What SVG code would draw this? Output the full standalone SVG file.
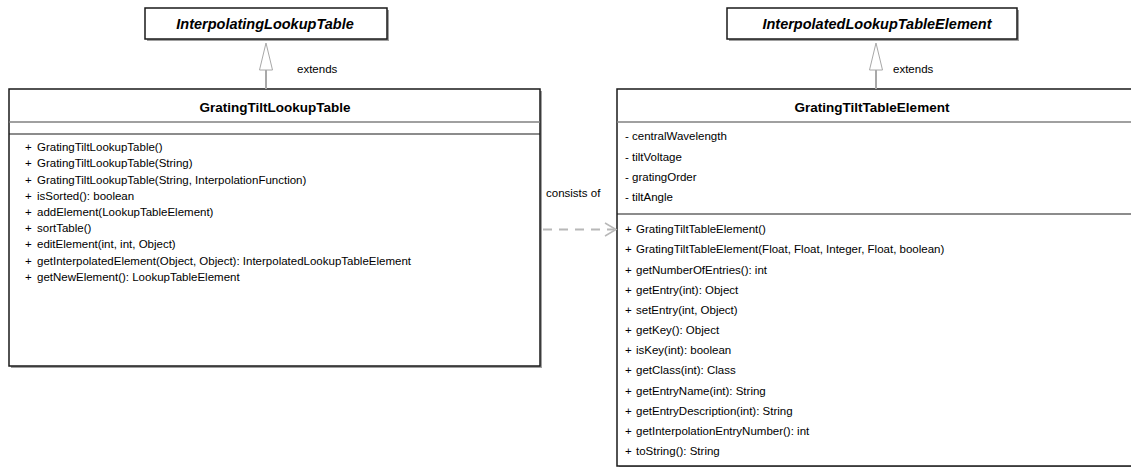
<svg xmlns="http://www.w3.org/2000/svg" width="1131" height="467" viewBox="0 0 1131 467">
  <defs>
    <style>
      .box { fill: #ffffff; stroke: #1a1a1a; stroke-width: 1.5; }
      .shadow { fill: #a0a0a0; }
      .sep { stroke: #808080; stroke-width: 1.5; }
      .sepdark { stroke: #1a1a1a; stroke-width: 1.2; }
      .title { font-family: "Liberation Sans", Arial, sans-serif; font-size: 13.5px; font-weight: bold; fill: #000; text-anchor: middle; }
      .abstract { font-style: italic; font-size: 14.5px; }
      .member { font-family: "Liberation Sans", Arial, sans-serif; font-size: 11.5px; fill: #000; }
      .label { font-family: "Liberation Sans", Arial, sans-serif; font-size: 11.5px; fill: #000; }
      .inherit { stroke: #a8a8a8; stroke-width: 2; fill: none; }
      .head { stroke: #a8a8a8; stroke-width: 1; fill: #ffffff; }
      .dep { stroke: #b8b8b8; stroke-width: 2; fill: none; stroke-dasharray: 9 7; }
      .open { stroke: #b8b8b8; stroke-width: 1.5; fill: none; }
    </style>
  </defs>

  <rect width="1131" height="467" fill="#ffffff"/>

  <!-- abstract parent classes -->
  <g id="InterpolatingLookupTable">
    <rect class="shadow" x="147" y="10" width="242" height="31"/>
    <rect class="box" x="145" y="8" width="242" height="31"/>
    <text class="title abstract" x="265" y="29">InterpolatingLookupTable</text>
  </g>

  <g id="InterpolatedLookupTableElement">
    <rect class="shadow" x="729" y="10" width="290" height="31"/>
    <rect class="box" x="727" y="8" width="290" height="31"/>
    <text class="title abstract" x="877" y="29">InterpolatedLookupTableElement</text>
  </g>

  <!-- lookup table class -->
  <g id="GratingTiltLookupTable">
    <rect class="shadow" x="11" y="91" width="531" height="277"/>
    <rect class="box" x="9" y="89" width="531" height="277"/>
    <text class="title" x="275" y="112">GratingTiltLookupTable</text>
    <line class="sep" x1="9" y1="122" x2="540" y2="122"/>
    <line class="sepdark" x1="9" y1="134" x2="540" y2="134"/>
    <g class="member">
      <text x="25" y="151">+<tspan x="37">GratingTiltLookupTable()</tspan></text>
      <text x="25" y="167">+<tspan x="37">GratingTiltLookupTable(String)</tspan></text>
      <text x="25" y="183.5">+<tspan x="37">GratingTiltLookupTable(String, InterpolationFunction)</tspan></text>
      <text x="25" y="199.5">+<tspan x="37">isSorted(): boolean</tspan></text>
      <text x="25" y="216">+<tspan x="37">addElement(LookupTableElement)</tspan></text>
      <text x="25" y="232">+<tspan x="37">sortTable()</tspan></text>
      <text x="25" y="248">+<tspan x="37">editElement(int, int, Object)</tspan></text>
      <text x="25" y="264.5">+<tspan x="37">getInterpolatedElement(Object, Object): InterpolatedLookupTableElement</tspan></text>
      <text x="25" y="281">+<tspan x="37">getNewElement(): LookupTableElement</tspan></text>
    </g>
  </g>

  <!-- table element class -->
  <g id="GratingTiltTableElement">
    <rect class="shadow" x="619" y="91" width="518" height="377"/>
    <rect class="box" x="617" y="89" width="518" height="377"/>
    <text class="title" x="872" y="112">GratingTiltTableElement</text>
    <line class="sep" x1="617" y1="122" x2="1131" y2="122"/>
    <line class="sepdark" x1="617" y1="214" x2="1131" y2="214"/>
    <g class="member">
      <text x="625" y="140">- centralWavelength</text>
      <text x="625" y="160.5">- tiltVoltage</text>
      <text x="625" y="180.5">- gratingOrder</text>
      <text x="625" y="201">- tiltAngle</text>
      <text x="625" y="233">+<tspan x="636">GratingTiltTableElement()</tspan></text>
      <text x="625" y="253">+<tspan x="636">GratingTiltTableElement(Float, Float, Integer, Float, boolean)</tspan></text>
      <text x="625" y="273.5">+<tspan x="636">getNumberOfEntries(): int</tspan></text>
      <text x="625" y="293.5">+<tspan x="636">getEntry(int): Object</tspan></text>
      <text x="625" y="313.5">+<tspan x="636">setEntry(int, Object)</tspan></text>
      <text x="625" y="334">+<tspan x="636">getKey(): Object</tspan></text>
      <text x="625" y="354">+<tspan x="636">isKey(int): boolean</tspan></text>
      <text x="625" y="374">+<tspan x="636">getClass(int): Class</tspan></text>
      <text x="625" y="394.5">+<tspan x="636">getEntryName(int): String</tspan></text>
      <text x="625" y="414.5">+<tspan x="636">getEntryDescription(int): String</tspan></text>
      <text x="625" y="434.5">+<tspan x="636">getInterpolationEntryNumber(): int</tspan></text>
      <text x="625" y="455">+<tspan x="636">toString(): String</tspan></text>
    </g>
  </g>

  <!-- connectors -->
  <g id="connectors">
    <g id="extends-left">
      <line class="inherit" x1="266" y1="70" x2="266" y2="89"/>
      <polygon class="head" points="266,43 259.5,70 272.5,70"/>
      <text class="label" x="297" y="73">extends</text>
    </g>
    <g id="extends-right">
      <line class="inherit" x1="876" y1="70" x2="876" y2="89"/>
      <polygon class="head" points="876,43 869.5,70 882.5,70"/>
      <text class="label" x="893" y="73">extends</text>
    </g>
    <g id="consists-of">
      <line class="dep" x1="543" y1="229.5" x2="614" y2="229.5"/>
      <polyline class="open" points="605,223 616,229.5 605,236"/>
      <text class="label" x="546" y="196.5">consists of</text>
    </g>
  </g>
</svg>
